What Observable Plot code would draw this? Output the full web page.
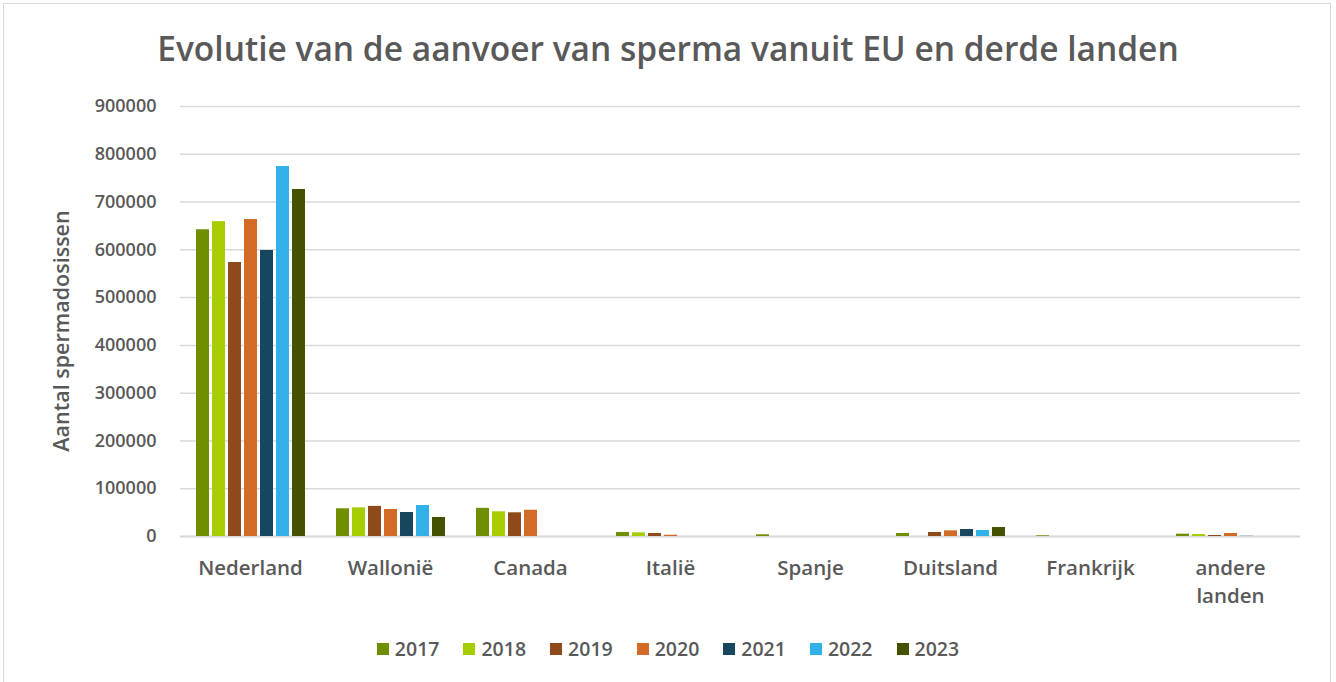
<!DOCTYPE html>
<html><head><meta charset="utf-8">
<script src="https://cdn.jsdelivr.net/npm/d3@7"></script>
<script src="https://cdn.jsdelivr.net/npm/@observablehq/plot@0.6"></script>
<style>
body{margin:0;background:#fff;font-family:"Open Sans",sans-serif;}
#wrap{position:relative;width:1336px;height:682px;overflow:hidden;}
#frame{position:absolute;left:3px;top:3px;width:1328px;height:690px;border:1px solid #d9d9d9;box-sizing:border-box;}
#title{position:absolute;left:0;width:1336px;top:25px;text-align:center;font-size:33.5px;font-weight:600;color:#595959;white-space:nowrap;}
#chart{position:absolute;left:0;top:0;}
#ytitle{position:absolute;left:60px;top:331px;transform:translate(-50%,-50%) rotate(-90deg);font-size:21.5px;font-weight:600;color:#595959;white-space:nowrap;}
#legend{position:absolute;left:0;width:1336px;top:635px;display:flex;justify-content:center;gap:24px;font-size:19.5px;font-weight:600;color:#595959;}
#legend .it{display:flex;align-items:center;gap:6px;}
#legend .sw{width:12px;height:12px;display:inline-block;}
</style></head>
<body>
<div id="wrap">
<div id="frame"></div>
<div id="title">Evolutie van de aanvoer van sperma vanuit EU en derde landen</div>
<div id="chart"></div>
<div id="ytitle">Aantal spermadosissen</div>
<div id="legend"></div>
</div>
<script>
const countries = ["Nederland","Wallonië","Canada","Italië","Spanje","Duitsland","Frankrijk","andere landen"];
const years = ["2017","2018","2019","2020","2021","2022","2023"];
const colors = ["#6f8e00","#a6cd00","#8e4a1a","#d26b26","#17465f","#31b1e7","#445200"];
// values per year, in order of countries
const v2017 = [642000, 58000, 59000, 8400, 3500, 6300, 1500, 4900];
const v2018 = [659000, 60000, 51700, 7700, 0, 0, 0, 4200];
const v2019 = [573500, 63000, 49600, 6300, 0, 8400, 0, 2100];
const v2020 = [663500, 56500, 55000, 2700, 0, 11900, 0, 6300];
const v2021 = [598600, 50200, 0, 0, 0, 14600, 0, 400];
const v2022 = [774400, 64900, 0, 0, 0, 12600, 0, 0];
const v2023 = [726300, 39800, 0, 0, 0, 18800, 0, 0];
const series = [v2017,v2018,v2019,v2020,v2021,v2022,v2023];
const yTicks = [0,100000,200000,300000,400000,500000,600000,700000,800000,900000];

const data = [];
years.forEach((y,i)=>countries.forEach((c,j)=>data.push({country:c, year:y, value:series[i][j]})));

const plot = Plot.plot({
  width:1336, height:620,
  marginTop:106, marginBottom:84, marginLeft:178, marginRight:35,
  style:{fontFamily:"Open Sans, sans-serif", color:"#595959", background:"transparent"},
  fx:{domain:countries, padding:0, label:null},
  x:{domain:years, paddingInner:0.21, paddingOuter:0.86, axis:null},
  y:{domain:[0,900000], ticks:yTicks, label:null},
  color:{domain:years, range:colors},
  marks:[
    Plot.gridY(yTicks,{stroke:"#d9d9d9", strokeOpacity:1, strokeWidth:1.5}),
    Plot.axisY(yTicks,{tickSize:0, tickPadding:24, fontSize:18, fontWeight:600, fill:"#595959", label:null, tickFormat:d=>String(d)}),
    Plot.ruleY([0],{stroke:"#d9d9d9", strokeWidth:2}),
    Plot.barY(data,{fx:"country", x:"year", y:"value", fill:"year"}),
    Plot.axisFx({anchor:"bottom", tickSize:0, tickPadding:18, fontSize:20.5, fontWeight:600, fill:"#595959", lineHeight:1.38, label:null, tickFormat:d=>d==="andere landen"?"andere\nlanden":d})
  ]
});
document.getElementById("chart").appendChild(plot);

const leg = document.getElementById("legend");
years.forEach((y,i)=>{
  const it=document.createElement("div");it.className="it";
  const sw=document.createElement("span");sw.className="sw";sw.style.background=colors[i];
  const t=document.createElement("span");t.textContent=y;
  it.appendChild(sw);it.appendChild(t);leg.appendChild(it);
});
</script>
</body></html>
